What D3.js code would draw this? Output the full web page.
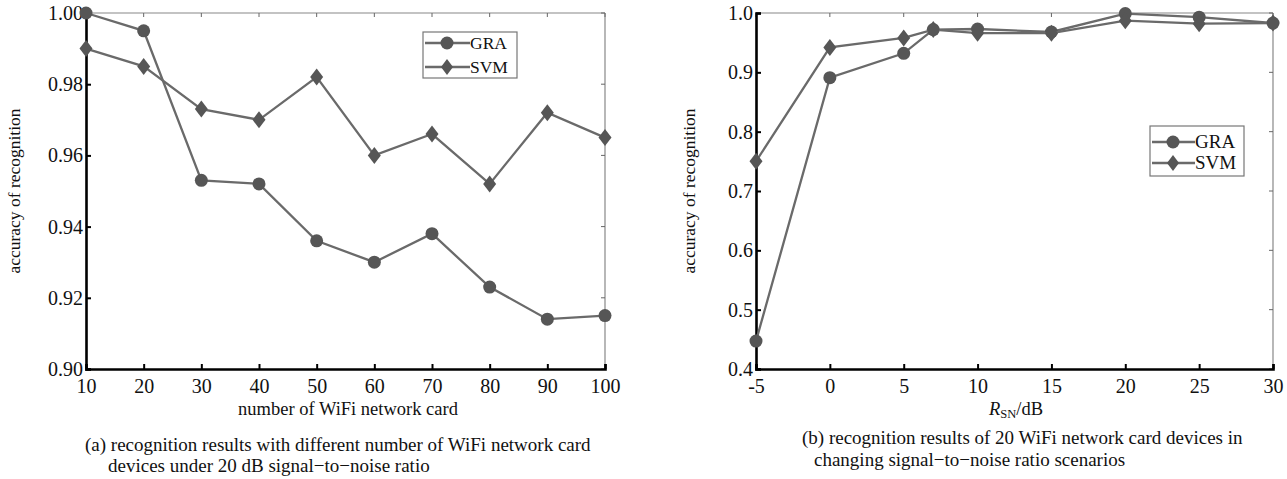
<!DOCTYPE html>
<html><head><meta charset="utf-8">
<script src="https://cdn.jsdelivr.net/npm/d3@7"></script>
<style>
html,body{margin:0;padding:0;background:#fff;}
text{font-family:"Liberation Serif","Times New Roman",serif;fill:#111;}
</style></head>
<body><svg id="c" width="1287" height="479"></svg>
<script>
// ---- data ----
const cardsA = [10,20,30,40,50,60,70,80,90,100];
const graA   = [1.000,0.995,0.953,0.952,0.936,0.930,0.938,0.923,0.914,0.915];
const svmA   = [0.990,0.985,0.973,0.970,0.982,0.960,0.966,0.952,0.972,0.965];
const yTicksA = [0.90,0.92,0.94,0.96,0.98,1.00];
const xTicksA = [10,20,30,40,50,60,70,80,90,100];

const snrB  = [-5,0,5,7,10,15,20,25,30];
const graB  = [0.447,0.891,0.932,0.972,0.973,0.968,0.999,0.993,0.983];
const svmB  = [0.750,0.942,0.958,0.972,0.966,0.966,0.987,0.982,0.983];
const yTicksB = [0.4,0.5,0.6,0.7,0.8,0.9,1.0];
const xTicksB = [-5,0,5,10,15,20,25,30];

const seriesNames = ["GRA","SVM"];
const captionA = ["(a) recognition results with different number of WiFi network card","devices under 20 dB signal−to−noise ratio"];
const captionB = ["(b) recognition results of 20 WiFi network card devices in","changing signal−to−noise ratio scenarios"];

const svg = d3.select("#c");
const lineCol = "#6a6a6a", markCol = "#565656";

const circleSym = d3.symbol().type(d3.symbolCircle).size(Math.PI*6.5*6.5);
const diamondSym = (w,h)=>`M0,${-h}L${w},0L0,${h}L${-w},0Z`;

function panel(o){
  const g = svg.append("g");
  const x = d3.scaleLinear().domain(o.xd).range([o.l,o.r]);
  const y = d3.scaleLinear().domain(o.yd).range([o.b,o.t]);
  g.append("line").attr("x1",o.l).attr("x2",o.r).attr("y1",o.t).attr("y2",o.t).attr("stroke","#888").attr("stroke-width",1.2);
  g.append("line").attr("x1",o.r).attr("x2",o.r).attr("y1",o.t).attr("y2",o.b).attr("stroke","#888").attr("stroke-width",1.2);
  g.selectAll(".tt").data(o.xt).join("line").attr("x1",d=>x(d)).attr("x2",d=>x(d)).attr("y1",o.t).attr("y2",o.t+4).attr("stroke","#666");
  g.selectAll(".rt").data(o.yt).join("line").attr("x1",o.r).attr("x2",o.r-4).attr("y1",d=>y(d)).attr("y2",d=>y(d)).attr("stroke","#666");
  const xa = g.append("g").attr("transform",`translate(0,${o.b})`)
    .call(d3.axisBottom(x).tickValues(o.xt).tickSize(-5).tickPadding(10).tickFormat(o.xf));
  const ya = g.append("g").attr("transform",`translate(${o.l},0)`)
    .call(d3.axisLeft(y).tickValues(o.yt).tickSize(-5).tickPadding(3).tickFormat(o.yf));
  [xa,ya].forEach(a=>{
    a.select(".domain").attr("stroke","#000").attr("stroke-width",2.6);
    a.selectAll(".tick line").attr("stroke","#000").attr("stroke-width",2);
    a.selectAll("text").attr("font-size",20).attr("fill","#111").attr("font-family","Liberation Serif");
  });
  const line = d3.line().x(d=>x(d[0])).y(d=>y(d[1]));
  o.series.forEach((s,i)=>{
    const pts = o.xs.map((v,j)=>[v,s[j]]);
    g.append("path").datum(pts).attr("d",line).attr("fill","none").attr("stroke",lineCol).attr("stroke-width",2.3);
    g.selectAll(null).data(pts).join("path").attr("d",i==0?circleSym:diamondSym(6.5,8.5))
      .attr("transform",d=>`translate(${x(d[0])},${y(d[1])})`)
      .attr("fill",markCol);
  });
  const L = o.leg;
  g.append("rect").attr("x",L.x).attr("y",L.y).attr("width",L.w).attr("height",L.h).attr("fill","#fff").attr("stroke","#777").attr("stroke-width",1.2);
  seriesNames.forEach((n,i)=>{
    const yy = L.y0+i*L.dy;
    g.append("line").attr("x1",L.x+2).attr("x2",L.lx2).attr("y1",yy).attr("y2",yy).attr("stroke",lineCol).attr("stroke-width",2.3);
    g.append("path").attr("d",i==0?circleSym:diamondSym(6,8)).attr("transform",`translate(${L.mx},${yy})`).attr("fill",markCol);
    g.append("text").attr("x",L.lx2).attr("y",yy+L.fs*0.33).attr("font-size",L.fs).text(n);
  });
  g.append("text").attr("transform",`translate(${o.ytx},${(o.t+o.b)/2}) rotate(-90)`).attr("text-anchor","middle").attr("font-size",17.5).text("accuracy of recognition");
  return {g,x,y};
}

const A = panel({l:86,r:605,t:13,b:369,xd:[10,100],yd:[0.90,1.00],xt:xTicksA,yt:yTicksA,
  xf:d3.format("d"),yf:d3.format(".2f"),series:[graA,svmA],xs:cardsA,
  leg:{x:423,y:32,w:94,h:46,y0:43,dy:24,mx:447,lx2:470,fs:17.5},ytx:20});
A.g.append("text").attr("x",348).attr("y",415).attr("text-anchor","middle").attr("font-size",18.5).text("number of WiFi network card");

const B = panel({l:756,r:1273,t:13,b:369,xd:[-5,30],yd:[0.4,1.0],xt:xTicksB,yt:yTicksB,
  xf:d=>String(d),yf:d3.format(".1f"),series:[graB,svmB],xs:snrB,
  leg:{x:1150,y:126,w:94,h:50,y0:142,dy:21,mx:1173,lx2:1195,fs:19},ytx:695});
const xt = B.g.append("text").attr("x",1016).attr("y",415).attr("text-anchor","middle").attr("font-size",18.5);
xt.append("tspan").attr("font-style","italic").text("R");
xt.append("tspan").attr("font-size",12.5).attr("dy",3).text("SN");
xt.append("tspan").attr("dy",-3).text("/dB");

const ca = svg.append("text").attr("font-size",19);
ca.append("tspan").attr("x",85).attr("y",451).text(captionA[0]);
ca.append("tspan").attr("x",108).attr("y",472).text(captionA[1]);
const cb = svg.append("text").attr("font-size",19);
cb.append("tspan").attr("x",802).attr("y",444).text(captionB[0]);
cb.append("tspan").attr("x",814).attr("y",466).text(captionB[1]);
</script></body></html>
